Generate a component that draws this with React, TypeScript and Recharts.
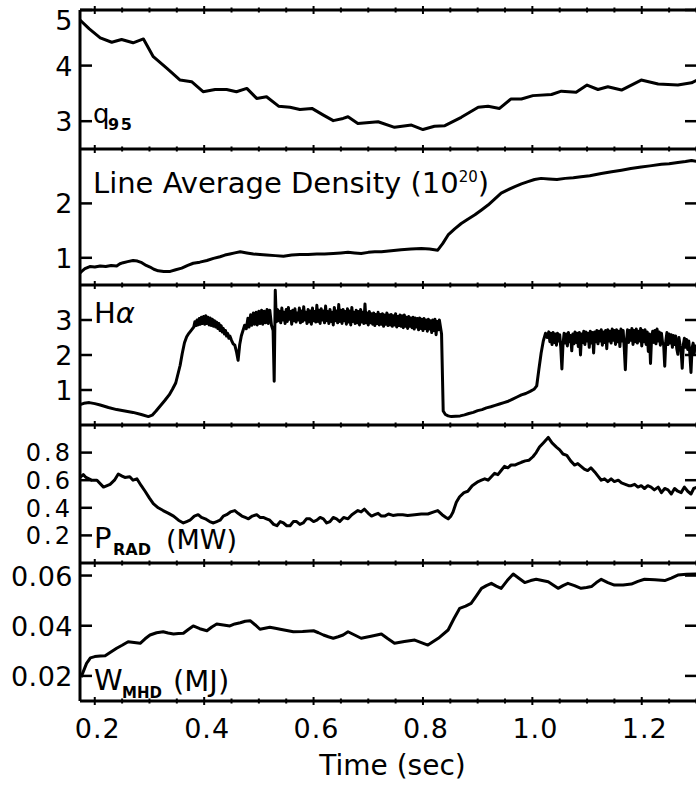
import { LineChart, Line, XAxis, YAxis } from 'recharts';

const FONT = '"DejaVu Sans", sans-serif';
const X_DOMAIN = [0.173, 1.301];
const PAD = 5;

const timeTicks = [0.2, 0.25, 0.3, 0.35, 0.4, 0.45, 0.5, 0.55, 0.6, 0.65, 0.7, 0.75, 0.8, 0.85, 0.9, 0.95, 1.0, 1.05, 1.1, 1.15, 1.2, 1.25, 1.3];
const q95Ticks = [3, 4, 5];
const densityTicks = [1, 2];
const halphaTicks = [1, 2, 3];
const pradTicks = [0.2, 0.4, 0.6, 0.8];
const wmhdTicks = [0.02, 0.04, 0.06];

const q95 = [
  [0.173, 4.82], [0.190, 4.66], [0.21, 4.5], [0.231, 4.42], [0.249, 4.47], [0.27, 4.41], [0.289, 4.48],
  [0.307, 4.16], [0.332, 3.95], [0.356, 3.74], [0.377, 3.71], [0.398, 3.53], [0.42, 3.57], [0.441, 3.57],
  [0.459, 3.53], [0.478, 3.59], [0.496, 3.41], [0.514, 3.44], [0.536, 3.27], [0.557, 3.25], [0.575, 3.21],
  [0.597, 3.23], [0.618, 3.11], [0.636, 3.01], [0.654, 3.05], [0.663, 3.08], [0.681, 2.96], [0.718, 2.99],
  [0.748, 2.89], [0.779, 2.93], [0.8, 2.85], [0.821, 2.91], [0.84, 2.92], [0.87, 3.07], [0.901, 3.25],
  [0.919, 3.27], [0.94, 3.23], [0.961, 3.4], [0.98, 3.4], [1.001, 3.46], [1.035, 3.48], [1.053, 3.54],
  [1.08, 3.52], [1.1, 3.65], [1.12, 3.57], [1.138, 3.62], [1.163, 3.56], [1.199, 3.74], [1.23, 3.67],
  [1.266, 3.65], [1.291, 3.69], [1.301, 3.74],
];

const density = [
  [0.173, 0.72], [0.176, 0.75], [0.182, 0.8], [0.191, 0.84], [0.2, 0.83], [0.21, 0.85], [0.22, 0.84],
  [0.23, 0.86], [0.24, 0.85], [0.246, 0.89], [0.252, 0.91], [0.26, 0.93], [0.27, 0.95], [0.278, 0.94],
  [0.286, 0.91], [0.294, 0.86], [0.301, 0.83], [0.308, 0.79], [0.316, 0.76], [0.326, 0.75], [0.338, 0.75],
  [0.348, 0.78], [0.359, 0.81], [0.37, 0.86], [0.38, 0.9], [0.392, 0.92], [0.405, 0.95], [0.417, 0.99],
  [0.429, 1.02], [0.438, 1.05], [0.447, 1.07], [0.456, 1.09], [0.466, 1.11], [0.478, 1.09], [0.49, 1.07],
  [0.502, 1.06], [0.514, 1.05], [0.53, 1.04], [0.545, 1.03], [0.56, 1.05], [0.575, 1.06], [0.59, 1.06],
  [0.606, 1.07], [0.62, 1.07], [0.636, 1.08], [0.65, 1.09], [0.663, 1.1], [0.675, 1.09], [0.687, 1.08],
  [0.7, 1.1], [0.712, 1.11], [0.724, 1.11], [0.742, 1.13], [0.76, 1.15], [0.778, 1.16], [0.797, 1.17],
  [0.812, 1.16], [0.827, 1.14], [0.836, 1.26], [0.846, 1.42], [0.858, 1.53], [0.87, 1.63], [0.882, 1.71],
  [0.895, 1.79], [0.907, 1.88], [0.919, 1.97], [0.931, 2.08], [0.943, 2.19], [0.955, 2.25], [0.968, 2.31],
  [0.98, 2.36], [0.992, 2.4], [1.004, 2.44], [1.016, 2.46], [1.03, 2.45], [1.045, 2.44], [1.06, 2.46],
  [1.075, 2.47], [1.089, 2.49], [1.105, 2.51], [1.126, 2.55], [1.145, 2.58], [1.163, 2.61], [1.18, 2.64],
  [1.199, 2.67], [1.215, 2.69], [1.236, 2.72], [1.25, 2.73], [1.266, 2.75], [1.28, 2.77], [1.291, 2.79],
  [1.301, 2.77],
];

const halpha = [
  [0.173, 0.58], [0.18, 0.62], [0.19, 0.64], [0.2, 0.61], [0.21, 0.57], [0.225, 0.5], [0.24, 0.44],
  [0.255, 0.4], [0.27, 0.36], [0.285, 0.3], [0.298, 0.24], [0.305, 0.28], [0.312, 0.4], [0.32, 0.55],
  [0.328, 0.7], [0.336, 0.86], [0.342, 1.02], [0.348, 1.2], [0.352, 1.45], [0.356, 1.7], [0.36, 2.05],
  [0.364, 2.35], [0.368, 2.52], [0.372, 2.62], [0.377, 2.72],
  [0.381, 2.8], [0.383, 2.95], [0.385, 2.84], [0.387, 3.0], [0.389, 2.86], [0.391, 3.04], [0.393, 2.88],
  [0.395, 3.08], [0.397, 2.9], [0.399, 3.1], [0.401, 2.88], [0.403, 3.12], [0.405, 2.9], [0.407, 3.08],
  [0.409, 2.86], [0.411, 3.06], [0.413, 2.84], [0.415, 3.02], [0.417, 2.82], [0.419, 2.98], [0.421, 2.8],
  [0.423, 2.94], [0.425, 2.76], [0.427, 2.9], [0.429, 2.7], [0.431, 2.84], [0.433, 2.66], [0.435, 2.76],
  [0.437, 2.6], [0.439, 2.7], [0.441, 2.54], [0.443, 2.62], [0.445, 2.48], [0.447, 2.54], [0.45, 2.42],
  [0.453, 2.32], [0.456, 2.28], [0.459, 2.1], [0.462, 1.85], [0.465, 2.3], [0.468, 2.55],
  [0.471, 2.7], [0.474, 2.85], [0.477, 2.75], [0.48, 3.05], [0.482, 2.8], [0.485, 3.15], [0.487, 2.85],
  [0.49, 3.2], [0.492, 2.88], [0.495, 3.22], [0.497, 2.86], [0.5, 3.25], [0.502, 2.9], [0.505, 3.28],
  [0.507, 2.88], [0.51, 3.25], [0.512, 2.92], [0.515, 3.3], [0.517, 2.9], [0.52, 3.28], [0.523, 2.85],
  [0.526, 2.7], [0.528, 1.25], [0.53, 3.85], [0.532, 2.95],
  [0.534, 3.3], [0.536, 2.98], [0.538, 3.25], [0.54, 2.92], [0.542, 3.34], [0.544, 3.0], [0.546, 3.22],
  [0.548, 2.9], [0.55, 3.3], [0.552, 2.96], [0.554, 3.36], [0.556, 3.02], [0.558, 3.24], [0.56, 2.88],
  [0.562, 3.28], [0.564, 2.98], [0.566, 3.32], [0.568, 2.94], [0.57, 3.2], [0.572, 3.0], [0.574, 3.34],
  [0.576, 2.92], [0.578, 3.26], [0.58, 2.96], [0.582, 3.38], [0.584, 3.0], [0.586, 3.22], [0.588, 2.9],
  [0.59, 3.3], [0.592, 2.95], [0.594, 3.26], [0.596, 2.88], [0.598, 3.34], [0.6, 2.98], [0.602, 3.24],
  [0.604, 2.94], [0.606, 3.42], [0.608, 2.96], [0.61, 3.28], [0.612, 2.9], [0.614, 3.32], [0.616, 3.0],
  [0.618, 3.26], [0.62, 2.92], [0.622, 3.4], [0.624, 2.98], [0.626, 3.24], [0.628, 2.9], [0.63, 3.3],
  [0.632, 2.96], [0.634, 3.22], [0.636, 2.86], [0.638, 3.36], [0.64, 2.98], [0.642, 3.26], [0.644, 2.92],
  [0.646, 3.44], [0.648, 2.96], [0.65, 3.28], [0.652, 2.9], [0.654, 3.3], [0.656, 2.98], [0.658, 3.24],
  [0.66, 2.88], [0.662, 3.32], [0.664, 2.94], [0.666, 3.26], [0.668, 2.86], [0.67, 3.36], [0.672, 2.96],
  [0.674, 3.22], [0.676, 2.9], [0.678, 3.28], [0.68, 2.92], [0.682, 3.24], [0.684, 2.86], [0.686, 3.3],
  [0.688, 2.94], [0.69, 3.22], [0.692, 2.9], [0.694, 3.46], [0.696, 2.92], [0.698, 3.2], [0.7, 2.86],
  [0.702, 3.24], [0.704, 2.92], [0.706, 3.18], [0.708, 2.88], [0.71, 3.2], [0.712, 2.84], [0.714, 3.16],
  [0.716, 2.9], [0.718, 3.22], [0.72, 2.86], [0.722, 3.16], [0.724, 2.88], [0.726, 3.18], [0.728, 2.82],
  [0.73, 3.14], [0.732, 2.88], [0.734, 3.2], [0.736, 2.84], [0.738, 3.14], [0.74, 2.86], [0.742, 3.16],
  [0.744, 2.82], [0.746, 3.12], [0.748, 2.86], [0.75, 3.18], [0.752, 2.8], [0.754, 3.1], [0.756, 2.84],
  [0.758, 3.14], [0.76, 2.82], [0.762, 3.12], [0.764, 2.78], [0.766, 3.14], [0.768, 2.82], [0.77, 3.08],
  [0.772, 2.76], [0.774, 3.1], [0.776, 2.82], [0.778, 3.06], [0.78, 2.78], [0.782, 3.08], [0.784, 2.74],
  [0.786, 3.06], [0.788, 2.8], [0.79, 3.04], [0.792, 2.72], [0.794, 3.06], [0.796, 2.76], [0.798, 3.02],
  [0.8, 2.7], [0.802, 3.04], [0.804, 2.76], [0.806, 3.0], [0.808, 2.68], [0.81, 3.02], [0.812, 2.74],
  [0.814, 2.98], [0.816, 2.64], [0.818, 3.0], [0.82, 2.7], [0.822, 3.02], [0.824, 2.58], [0.826, 2.96],
  [0.828, 2.72], [0.83, 3.0], [0.832, 2.8],
  [0.834, 2.6], [0.837, 0.4], [0.841, 0.3], [0.846, 0.26], [0.852, 0.24], [0.86, 0.25], [0.868, 0.26],
  [0.876, 0.29], [0.884, 0.33], [0.892, 0.36], [0.9, 0.41], [0.908, 0.44], [0.916, 0.49], [0.924, 0.52],
  [0.932, 0.56], [0.94, 0.6], [0.948, 0.64], [0.956, 0.68], [0.964, 0.74], [0.972, 0.8], [0.98, 0.86],
  [0.988, 0.9], [0.996, 0.96], [1.003, 1.02], [1.008, 1.12], [1.012, 1.6], [1.016, 2.05], [1.02, 2.4],
  [1.024, 2.62], [1.027, 2.5],
  [1.03, 2.66], [1.032, 2.38], [1.034, 2.62], [1.036, 2.3], [1.038, 2.64], [1.04, 2.36], [1.042, 2.6],
  [1.044, 2.28], [1.046, 2.62], [1.048, 2.4], [1.05, 2.58], [1.052, 2.2], [1.054, 1.6], [1.056, 2.3],
  [1.058, 2.62], [1.06, 2.34], [1.062, 2.6], [1.064, 2.26], [1.066, 2.64], [1.068, 2.38], [1.07, 2.56],
  [1.072, 2.12], [1.074, 2.6], [1.076, 2.32], [1.078, 2.66], [1.08, 2.36], [1.082, 2.62], [1.084, 2.24],
  [1.086, 2.64], [1.088, 2.0], [1.09, 2.6], [1.092, 2.36], [1.094, 2.68], [1.096, 2.3], [1.098, 2.66],
  [1.1, 2.4], [1.102, 2.62], [1.104, 2.22], [1.106, 2.68], [1.108, 2.34], [1.11, 2.64], [1.112, 2.06],
  [1.114, 2.66], [1.116, 2.38], [1.118, 2.7], [1.12, 2.32], [1.122, 2.68], [1.124, 2.4], [1.126, 2.72],
  [1.128, 2.28], [1.13, 2.66], [1.132, 2.36], [1.134, 2.7], [1.136, 2.18], [1.138, 2.72], [1.14, 2.4],
  [1.142, 2.68], [1.144, 2.34], [1.146, 2.74], [1.148, 2.42], [1.15, 2.7], [1.152, 2.3], [1.154, 2.72],
  [1.156, 2.38], [1.158, 2.68], [1.16, 2.24], [1.162, 2.74], [1.164, 2.4], [1.166, 2.7], [1.168, 2.2],
  [1.17, 1.58], [1.172, 2.4], [1.174, 2.72], [1.176, 2.36], [1.178, 2.7], [1.18, 2.42], [1.182, 2.76],
  [1.184, 2.3], [1.186, 2.7], [1.188, 2.38], [1.19, 2.74], [1.192, 2.34], [1.194, 2.68], [1.196, 2.4],
  [1.198, 2.76], [1.2, 2.26], [1.202, 2.7], [1.204, 2.38], [1.206, 2.72], [1.208, 2.3], [1.21, 2.66],
  [1.212, 2.1], [1.214, 2.6], [1.216, 1.76], [1.218, 2.5], [1.22, 2.68], [1.222, 2.36], [1.224, 2.7],
  [1.226, 2.32], [1.228, 2.74], [1.23, 2.4], [1.232, 2.66], [1.234, 2.28], [1.236, 2.62], [1.238, 2.36],
  [1.24, 2.3], [1.242, 1.68], [1.244, 2.4], [1.246, 2.64], [1.248, 2.3], [1.25, 2.6], [1.252, 2.34],
  [1.254, 2.58], [1.256, 2.22], [1.258, 2.56], [1.26, 2.3], [1.262, 2.54], [1.264, 2.18], [1.266, 2.02],
  [1.268, 2.5], [1.27, 2.28], [1.272, 2.1], [1.274, 1.62], [1.276, 2.3], [1.278, 2.48], [1.28, 2.22],
  [1.282, 2.44], [1.284, 2.16], [1.286, 2.4], [1.288, 2.0], [1.29, 1.5], [1.292, 2.2], [1.294, 2.34],
  [1.296, 2.06], [1.298, 2.26], [1.301, 2.1],
];

const prad = [
  [0.173, 0.62], [0.179, 0.64], [0.184, 0.62], [0.194, 0.6], [0.204, 0.6], [0.216, 0.55], [0.228, 0.57],
  [0.236, 0.6], [0.243, 0.645], [0.25, 0.63], [0.255, 0.62], [0.264, 0.625], [0.27, 0.6], [0.277, 0.61],
  [0.285, 0.56], [0.292, 0.52], [0.3, 0.47], [0.307, 0.43], [0.316, 0.4], [0.325, 0.38], [0.335, 0.36],
  [0.344, 0.34], [0.353, 0.31], [0.362, 0.29], [0.368, 0.3], [0.374, 0.31], [0.382, 0.34], [0.389, 0.35],
  [0.395, 0.33], [0.402, 0.32], [0.41, 0.3], [0.417, 0.29], [0.423, 0.3], [0.429, 0.31], [0.435, 0.34],
  [0.441, 0.35], [0.448, 0.37], [0.456, 0.38], [0.462, 0.36], [0.469, 0.34], [0.475, 0.33], [0.481, 0.32],
  [0.488, 0.34], [0.496, 0.35], [0.502, 0.33], [0.508, 0.33], [0.514, 0.32], [0.52, 0.31], [0.527, 0.28],
  [0.533, 0.27], [0.539, 0.3], [0.545, 0.29], [0.551, 0.27], [0.557, 0.27], [0.563, 0.3], [0.569, 0.3],
  [0.575, 0.28], [0.581, 0.29], [0.587, 0.32], [0.593, 0.32], [0.6, 0.3], [0.606, 0.31], [0.612, 0.33],
  [0.618, 0.32], [0.624, 0.29], [0.63, 0.3], [0.636, 0.33], [0.642, 0.32], [0.648, 0.3], [0.655, 0.33],
  [0.663, 0.32], [0.67, 0.35], [0.681, 0.38], [0.687, 0.37], [0.693, 0.39], [0.7, 0.36], [0.706, 0.34],
  [0.712, 0.35], [0.718, 0.36], [0.724, 0.34], [0.73, 0.34], [0.737, 0.355], [0.745, 0.345], [0.754, 0.35],
  [0.763, 0.35], [0.772, 0.345], [0.785, 0.35], [0.797, 0.355], [0.809, 0.355], [0.82, 0.37], [0.827, 0.38],
  [0.835, 0.35], [0.842, 0.33], [0.846, 0.32], [0.851, 0.34], [0.855, 0.37], [0.861, 0.44], [0.867, 0.48],
  [0.875, 0.51], [0.882, 0.52], [0.89, 0.56], [0.901, 0.59], [0.907, 0.6], [0.913, 0.61], [0.919, 0.6],
  [0.925, 0.625], [0.931, 0.65], [0.937, 0.64], [0.943, 0.67], [0.949, 0.7], [0.955, 0.69], [0.961, 0.71],
  [0.968, 0.71], [0.974, 0.72], [0.98, 0.73], [0.987, 0.74], [0.994, 0.745], [1.001, 0.77], [1.007, 0.8],
  [1.013, 0.84], [1.02, 0.87], [1.029, 0.91], [1.036, 0.87], [1.044, 0.84], [1.05, 0.82], [1.056, 0.79],
  [1.063, 0.78], [1.07, 0.74], [1.077, 0.71], [1.083, 0.72], [1.089, 0.7], [1.095, 0.68], [1.101, 0.67],
  [1.107, 0.69], [1.114, 0.66], [1.12, 0.63], [1.126, 0.6], [1.132, 0.61], [1.138, 0.59], [1.144, 0.61],
  [1.15, 0.59], [1.157, 0.6], [1.163, 0.58], [1.17, 0.57], [1.176, 0.56], [1.181, 0.56], [1.187, 0.57],
  [1.193, 0.55], [1.199, 0.56], [1.205, 0.54], [1.211, 0.56], [1.217, 0.55], [1.223, 0.53], [1.23, 0.55],
  [1.236, 0.51], [1.242, 0.54], [1.248, 0.53], [1.254, 0.5], [1.26, 0.54], [1.266, 0.52], [1.272, 0.51],
  [1.278, 0.55], [1.284, 0.52], [1.29, 0.5], [1.295, 0.54], [1.301, 0.55],
];

const wmhd = [
  [0.175, 0.0195], [0.179, 0.0217], [0.185, 0.025], [0.192, 0.0272], [0.2, 0.0277], [0.21, 0.0279],
  [0.219, 0.028], [0.228, 0.0293], [0.24, 0.031], [0.25, 0.0322], [0.261, 0.0336], [0.272, 0.0333],
  [0.283, 0.033], [0.292, 0.0348], [0.301, 0.0363], [0.313, 0.0372], [0.325, 0.0376], [0.334, 0.0371],
  [0.344, 0.0367], [0.353, 0.0369], [0.362, 0.037], [0.371, 0.0385], [0.38, 0.0399], [0.392, 0.0388],
  [0.405, 0.038], [0.414, 0.0395], [0.423, 0.0407], [0.435, 0.0403], [0.447, 0.0399], [0.456, 0.0407],
  [0.466, 0.0412], [0.475, 0.0418], [0.484, 0.042], [0.493, 0.0404], [0.502, 0.0386], [0.511, 0.039],
  [0.52, 0.0394], [0.53, 0.039], [0.539, 0.0386], [0.551, 0.0381], [0.563, 0.0376], [0.58, 0.0377],
  [0.6, 0.038], [0.609, 0.0372], [0.618, 0.0363], [0.627, 0.0356], [0.636, 0.035], [0.645, 0.0356],
  [0.654, 0.0363], [0.663, 0.0376], [0.675, 0.0363], [0.687, 0.035], [0.705, 0.0358], [0.724, 0.0367],
  [0.736, 0.0348], [0.748, 0.033], [0.766, 0.0337], [0.785, 0.0343], [0.797, 0.0333], [0.809, 0.0323],
  [0.828, 0.035], [0.846, 0.0383], [0.857, 0.043], [0.867, 0.0469], [0.878, 0.0478], [0.888, 0.0489],
  [0.898, 0.052], [0.907, 0.0549], [0.916, 0.056], [0.925, 0.0569], [0.934, 0.0558], [0.943, 0.0549],
  [0.954, 0.058], [0.965, 0.0606], [0.976, 0.0588], [0.986, 0.0572], [0.997, 0.058], [1.007, 0.0585],
  [1.018, 0.058], [1.029, 0.0575], [1.038, 0.0562], [1.047, 0.0549], [1.056, 0.056], [1.065, 0.0569],
  [1.077, 0.056], [1.089, 0.0549], [1.099, 0.0552], [1.108, 0.0556], [1.117, 0.0572], [1.126, 0.0585],
  [1.138, 0.0572], [1.15, 0.0562], [1.166, 0.0562], [1.181, 0.0566], [1.193, 0.0577], [1.205, 0.0585],
  [1.224, 0.0583], [1.242, 0.058], [1.254, 0.059], [1.266, 0.0602], [1.282, 0.0605], [1.301, 0.0606],
];

const toRows = (pts: number[][]) => pts.map(([t, v]) => ({ t, v }));
const isMajor = (v: number) => Math.abs(v * 5 - Math.round(v * 5)) < 1e-6;

// small ticks sitting on the horizontal frame lines
const frameTick = (p: any) => {
  const s = isMajor(p.payload.value) ? 4 : 2.5;
  return <line x1={p.x} y1={p.y - s} x2={p.x} y2={p.y + s} stroke="#000" strokeWidth={2} />;
};

const bottomTick = (p: any) => {
  const v = p.payload.value;
  const major = isMajor(v);
  const s = major ? 4 : 2.5;
  return (
    <g>
      <line x1={p.x} y1={p.y - s} x2={p.x} y2={p.y + s} stroke="#000" strokeWidth={2} />
      {major && v < 1.25 && (
        <text x={p.x + 3} y={p.y + 37} textAnchor="middle" fontSize={27} letterSpacing={1} fontFamily={FONT} fill="#000">
          {v.toFixed(1)}
        </text>
      )}
    </g>
  );
};

const leftTick = (digits: number, size: number, spacing: number) => (p: any) => {
  const by = Math.max(p.y + size * 0.37, PAD + 20);
  return (
    <g>
      <line x1={p.x} y1={p.y} x2={p.x + 12} y2={p.y} stroke="#000" strokeWidth={2.5} />
      <text x={p.x - 7} y={by} textAnchor="end" fontSize={size} letterSpacing={spacing} fontFamily={FONT} fill="#000">
        {p.payload.value.toFixed(digits)}
      </text>
    </g>
  );
};

const rightTick = (p: any) => <line x1={p.x - 12} y1={p.y} x2={p.x} y2={p.y} stroke="#000" strokeWidth={2.5} />;

type PanelProps = {
  pts: number[][];
  yDomain: number[];
  yTicks: number[];
  digits: number;
  top: number;
  height: number;
  labelSize?: number;
  spacing?: number;
  last?: boolean;
};

function Panel({ pts, yDomain, yTicks, digits, top, height, labelSize = 27, spacing = 0.5, last }: PanelProps) {
  const chartH = PAD + height + (last ? 85 : 0);
  return (
    <div style={{ position: 'absolute', left: 0, top: top - PAD }}>
      <LineChart width={698} height={chartH} data={toRows(pts)} margin={{ top: PAD - 1, right: 0, bottom: 0, left: 0 }}>
        <XAxis xAxisId="top" orientation="top" dataKey="t" type="number" domain={X_DOMAIN} allowDataOverflow
          ticks={timeTicks} interval={0} height={1} tickSize={0} tickMargin={0}
          axisLine={{ stroke: '#000', strokeWidth: 3 }} tickLine={false} tick={frameTick} />
        {last && (
          <XAxis xAxisId="bot" orientation="bottom" dataKey="t" type="number" domain={X_DOMAIN} allowDataOverflow
            ticks={timeTicks} interval={0} height={85} tickSize={0} tickMargin={0}
            axisLine={{ stroke: '#000', strokeWidth: 3 }} tickLine={false} tick={bottomTick}
            label={{ value: 'Time (sec)', position: 'insideBottom', offset: 11, dx: 4, fill: '#000', fontSize: 28, fontFamily: FONT }} />
        )}
        <YAxis yAxisId="l" type="number" domain={yDomain} allowDataOverflow ticks={yTicks} interval={0}
          width={80} tickSize={0} tickMargin={0} axisLine={{ stroke: '#000', strokeWidth: 3 }} tickLine={false}
          tick={leftTick(digits, labelSize, spacing)} />
        <YAxis yAxisId="r" orientation="right" type="number" domain={yDomain} allowDataOverflow ticks={yTicks}
          interval={0} width={1} tickSize={0} tickMargin={0} axisLine={false} tickLine={false} tick={rightTick} />
        <Line xAxisId={last ? 'bot' : 'top'} yAxisId="l" type="linear" dataKey="v" stroke="#000" strokeWidth={3}
          strokeLinejoin="round" dot={false} isAnimationActive={false} />
      </LineChart>
    </div>
  );
}

export default function App() {
  return (
    <div style={{ position: 'absolute', left: 0, top: 0, width: 696, height: 786, overflow: 'hidden', background: '#fff' }}>
      <Panel pts={q95} yDomain={[2.5, 5]} yTicks={q95Ticks} digits={0} top={10} height={139} />
      <Panel pts={density} yDomain={[0.5, 3]} yTicks={densityTicks} digits={0} top={149} height={136} />
      <Panel pts={halpha} yDomain={[0, 4]} yTicks={halphaTicks} digits={0} top={285} height={140} />
      <Panel pts={prad} yDomain={[0, 1]} yTicks={pradTicks} digits={1} top={425} height={138} labelSize={24} spacing={3} />
      <Panel pts={wmhd} yDomain={[0.01, 0.065]} yTicks={wmhdTicks} digits={2} top={563} height={138} last />
      <svg width={696} height={786} style={{ position: 'absolute', left: 0, top: 0, pointerEvents: 'none' }}
        fontFamily={FONT} fill="#000">
        <text x={93} y={123} fontSize={26}>
          q<tspan x={108} dy={7} fontSize={16} fontWeight="bold" letterSpacing={1.5}>95</tspan>
        </text>
        <text x={93} y={193} fontSize={29}>
          Line Average Density (10<tspan fontSize={15} dy={-11}>20</tspan><tspan dy={11}>)</tspan>
        </text>
        <text x={94} y={323} fontSize={29}>
          H<tspan fontStyle="italic">α</tspan>
        </text>
        <text x={94} y={548} fontSize={29}>
          P<tspan x={113} dy={7} fontSize={16} fontWeight="bold">RAD</tspan>
        </text>
        <text x={166} y={549} fontSize={27}>(MW)</text>
        <text x={94} y={690} fontSize={29}>
          W<tspan x={122} dy={8} fontSize={15} fontWeight="bold">MHD</tspan>
        </text>
        <text x={173} y={691} fontSize={29}>(MJ)</text>
      </svg>
    </div>
  );
}
